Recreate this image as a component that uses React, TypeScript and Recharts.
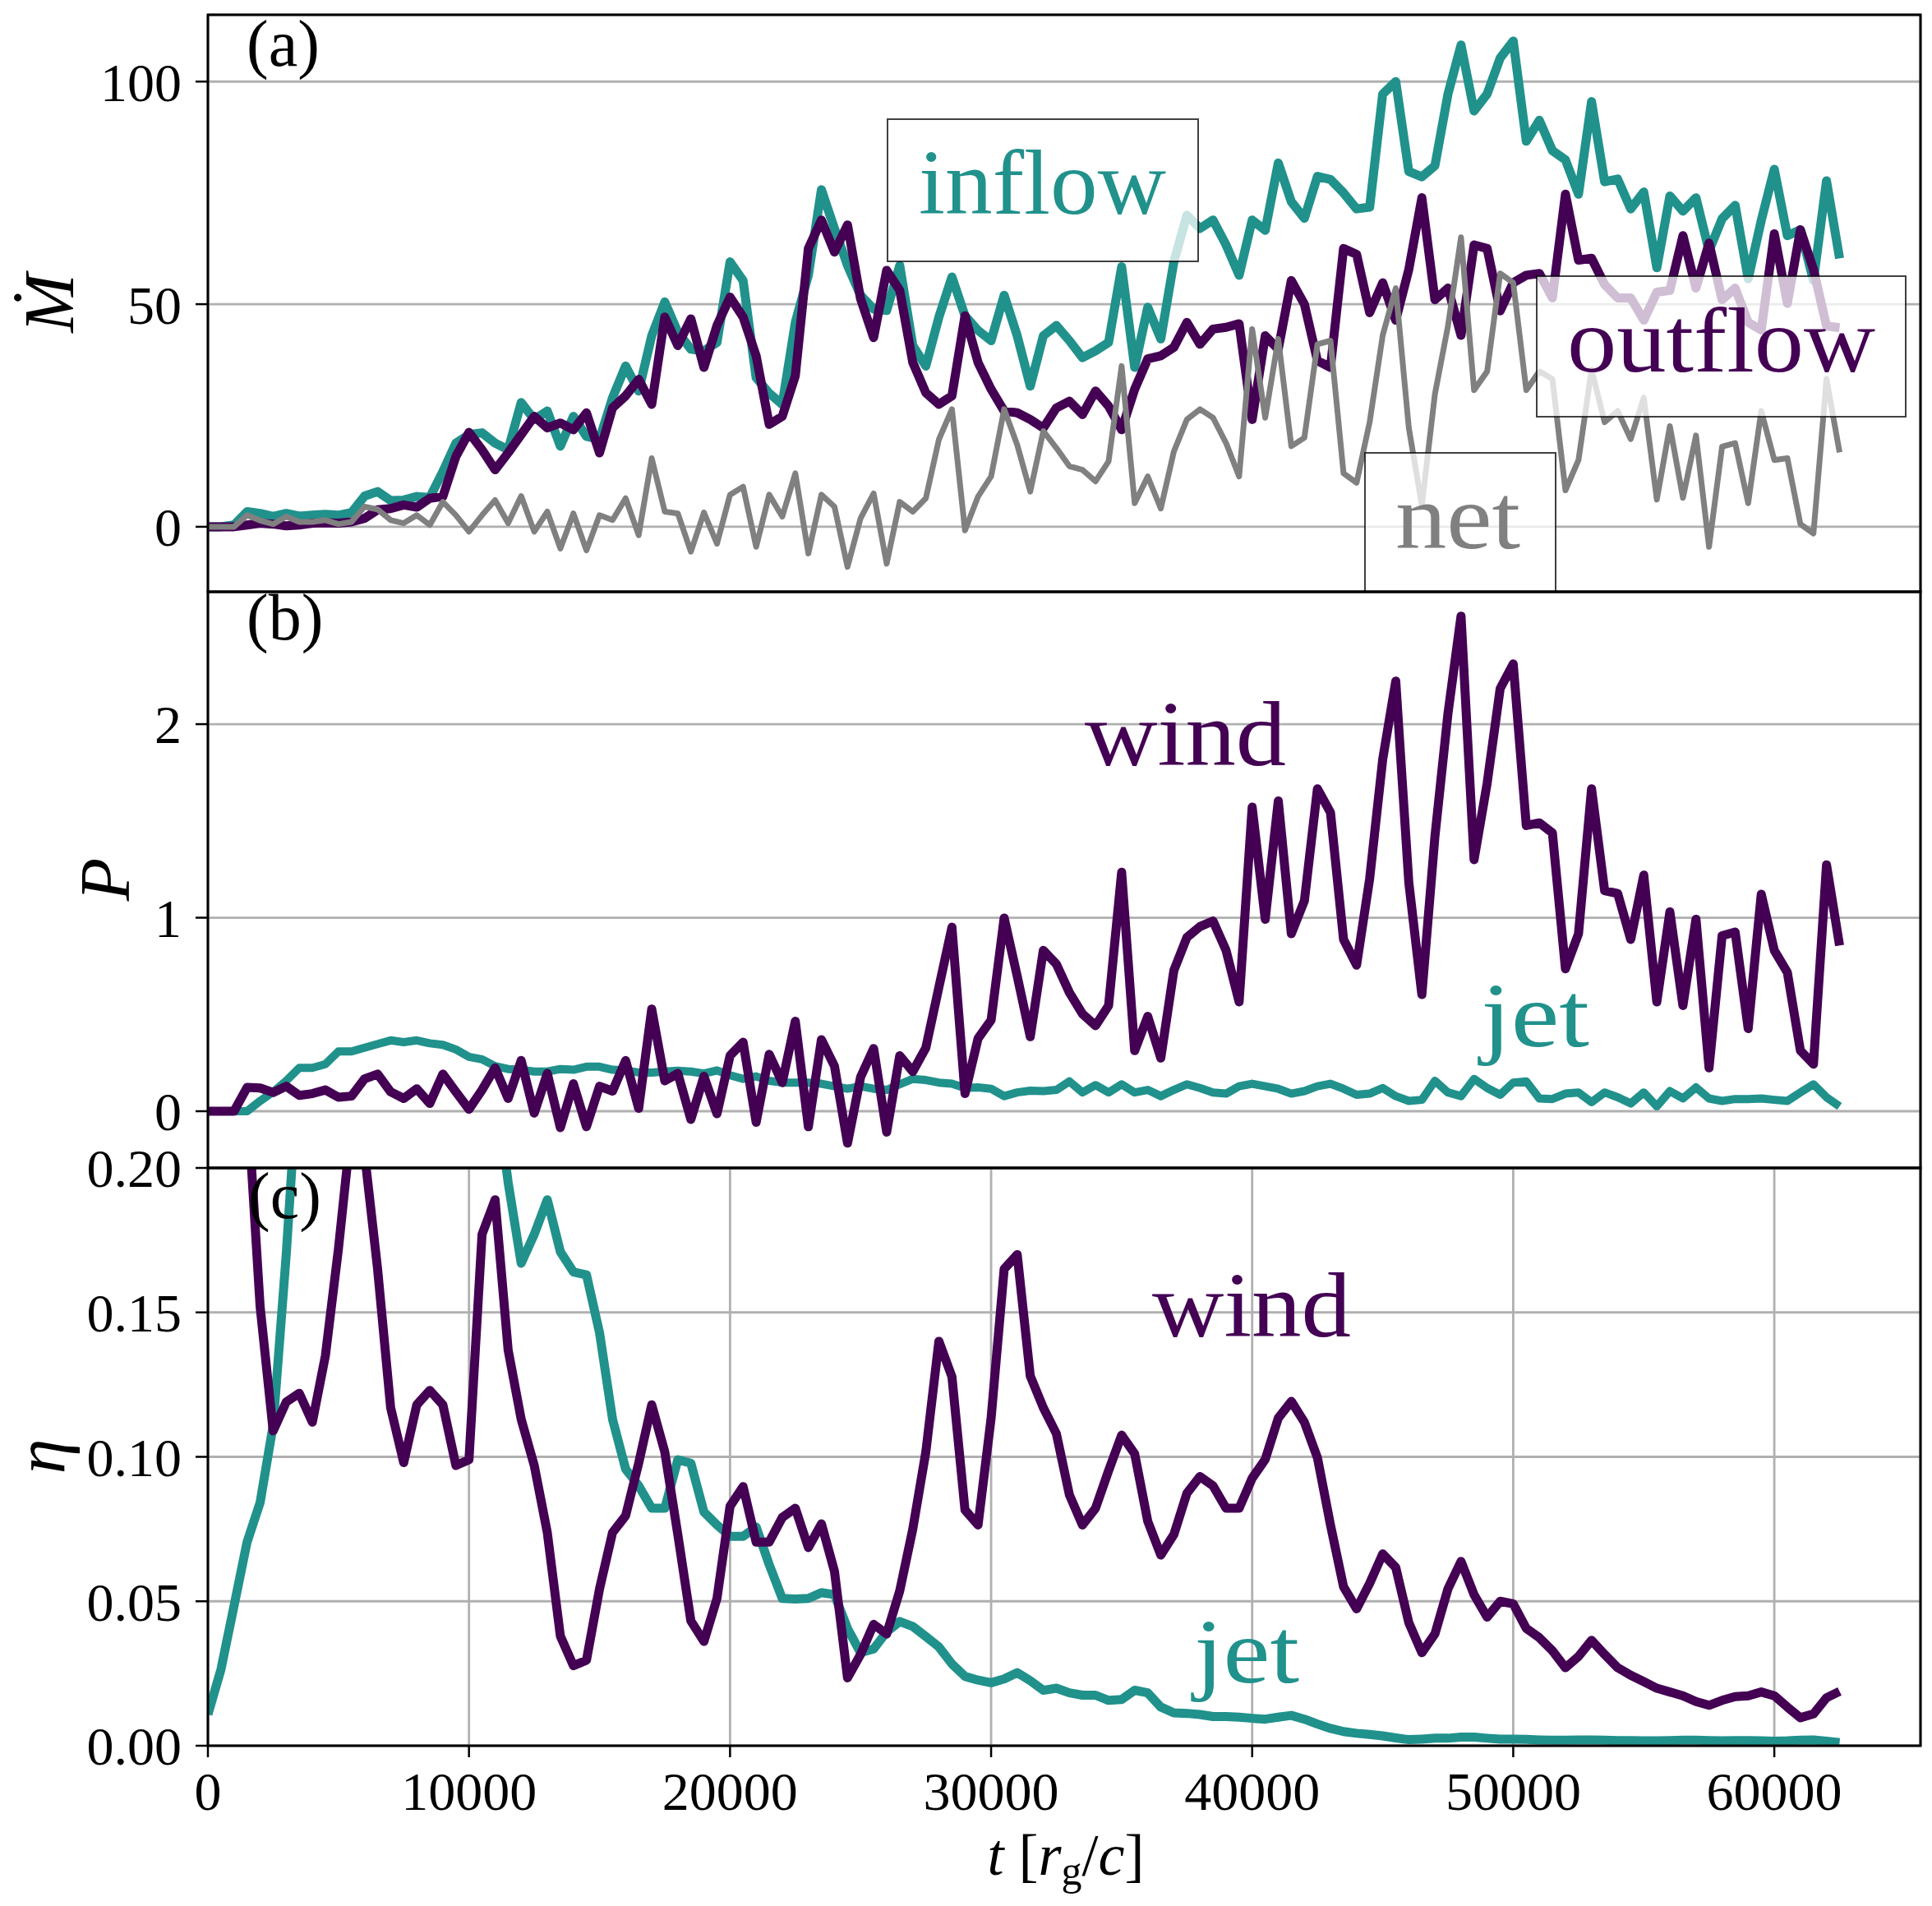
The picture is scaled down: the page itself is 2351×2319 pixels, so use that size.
import React from 'react';
import { LineChart, Line, XAxis, YAxis, CartesianGrid } from 'recharts';

// time samples, t [r_g/c]
const TIME = [
  0, 500, 1000, 1500, 2000, 2500, 3000, 3500, 4000, 4500,
  5000, 5500, 6000, 6500, 7000, 7500, 8000, 8500, 9000, 9500,
  10000, 10500, 11000, 11500, 12000, 12500, 13000, 13500, 14000, 14500,
  15000, 15500, 16000, 16500, 17000, 17500, 18000, 18500, 19000, 19500,
  20000, 20500, 21000, 21500, 22000, 22500, 23000, 23500, 24000, 24500,
  25000, 25500, 26000, 26500, 27000, 27500, 28000, 28500, 29000, 29500,
  30000, 30500, 31000, 31500, 32000, 32500, 33000, 33500, 34000, 34500,
  35000, 35500, 36000, 36500, 37000, 37500, 38000, 38500, 39000, 39500,
  40000, 40500, 41000, 41500, 42000, 42500, 43000, 43500, 44000, 44500,
  45000, 45500, 46000, 46500, 47000, 47500, 48000, 48500, 49000, 49500,
  50000, 50500, 51000, 51500, 52000, 52500, 53000, 53500, 54000, 54500,
  55000, 55500, 56000, 56500, 57000, 57500, 58000, 58500, 59000, 59500,
  60000, 60500, 61000, 61500, 62000, 62500,
];

// (a) mass flux
const INFLOW = [
  0, 0, 0.4, 3.4, 3.0, 2.3, 3.0, 2.4, 2.6, 2.8,
  2.6, 3.2, 6.9, 7.9, 5.9, 6.0, 6.8, 6.6, 12.4, 18.8,
  20.7, 21.1, 18.8, 17.3, 27.9, 24.1, 26.0, 18.1, 24.8, 20.3,
  19.6, 29.0, 36.1, 30.5, 42.9, 50.5, 43.7, 39.9, 39.5, 41.4,
  59.5, 55.3, 33.5, 30.0, 27.5, 45.9, 56.5, 75.7, 67.0, 58.7,
  52.0, 48.9, 48.6, 58.7, 40.7, 36.1, 47.1, 56.1, 47.4, 44.1,
  41.8, 52.0, 42.9, 31.6, 42.9, 45.2, 41.8, 38.0, 39.5, 41.4,
  58.4, 35.8, 49.3, 42.2, 59.5, 70.0, 67.0, 68.9, 63.3, 56.5,
  68.9, 66.6, 81.7, 73.0, 69.3, 78.7, 78.0, 75.0, 71.4, 71.8,
  97.2, 100.0, 79.8, 78.6, 81.1, 97.2, 108.2, 93.4, 97.2, 105.3,
  109.1, 86.6, 91.3, 84.5, 82.4, 74.7, 95.5, 77.5, 78.1, 71.4,
  75.2, 58.2, 74.3, 70.9, 73.9, 62.0, 69.2, 72.2, 55.7, 68.8,
  80.3, 65.4, 66.7, 55.3, 77.7, 60.3,
];

const OUTFLOW = [
  0, 0, 0, 0.4, 0.8, 0.6, 0.2, 0.4, 0.8, 0.9,
  0.8, 1.1, 1.9, 3.8, 4.1, 4.9, 4.4, 6.4, 6.8, 15.8,
  21.2, 17.3, 12.8, 16.6, 20.7, 24.8, 22.2, 23.3, 21.8, 25.6,
  16.6, 26.7, 29.4, 33.1, 27.5, 47.1, 40.7, 46.7, 35.8, 45.2,
  51.6, 47.1, 38.4, 23.0, 24.8, 33.9, 62.5, 68.9, 61.7, 67.8,
  51.2, 42.5, 57.6, 53.1, 36.9, 30.1, 27.5, 29.4, 47.4, 36.9,
  30.9, 26.0, 25.6, 24.1, 22.2, 26.7, 28.2, 25.2, 30.5, 27.1,
  21.8, 30.9, 37.7, 38.4, 40.3, 45.9, 41.0, 44.4, 44.8, 45.6,
  24.1, 42.9, 39.9, 55.3, 50.0, 37.3, 35.8, 62.5, 61.2, 48.1,
  54.8, 46.4, 57.8, 73.9, 51.0, 53.6, 43.0, 63.3, 62.5, 48.5,
  54.8, 56.5, 56.9, 51.4, 74.7, 59.9, 60.3, 54.4, 51.4, 51.4,
  46.4, 52.7, 53.1, 65.4, 53.6, 63.7, 51.0, 53.6, 45.9, 44.2,
  65.8, 50.2, 66.7, 57.8, 45.1, 44.7,
];

const NET = [
  0, 0, 0, 2.6, 1.4, 0.6, 2.3, 1.1, 1.1, 1.5,
  0.6, 1.1, 4.5, 3.9, 1.5, 0.8, 2.6, 0.4, 5.6, 2.6,
  -1.1, 2.6, 6.0, 0.8, 6.9, -1.1, 3.4, -4.9, 3.0, -5.3,
  2.6, 1.5, 6.4, -1.9, 15.4, 3.4, 3.0, -5.6, 3.2, -3.8,
  7.2, 9.0, -4.5, 7.2, 2.3, 12.0, -6.0, 7.2, 4.5, -9.0,
  1.9, 7.5, -8.3, 5.6, 3.4, 6.4, 19.6, 26.4, -0.8, 6.8,
  11.3, 26.4, 18.4, 7.9, 21.5, 17.7, 13.6, 12.8, 10.2, 14.7,
  36.1, 5.3, 11.3, 4.1, 16.9, 24.1, 26.4, 24.5, 18.8, 11.3,
  44.4, 24.5, 42.2, 18.1, 20.0, 41.0, 41.8, 12.0, 9.9, 23.5,
  43.0, 53.6, 22.2, 4.8, 29.8, 45.1, 65.0, 30.7, 34.9, 56.9,
  54.8, 30.7, 34.9, 33.2, 8.2, 15.0, 35.3, 23.5, 26.0, 19.7,
  29.0, 6.1, 22.6, 6.5, 20.5, -4.5, 18.0, 18.8, 5.3, 26.0,
  15.0, 15.4, 0.6, -1.5, 33.2, 16.7,
];

// (b) power
const WIND_P = [
  0, 0, 0, 0.123, 0.12, 0.097, 0.129, 0.082, 0.091, 0.11,
  0.072, 0.078, 0.167, 0.192, 0.1, 0.066, 0.116, 0.04, 0.192, 0.1,
  0.01, 0.11, 0.224, 0.066, 0.262, -0.01, 0.195, -0.085, 0.142, -0.08,
  0.129, 0.104, 0.262, 0.015, 0.528, 0.157, 0.195, -0.042, 0.18, -0.013,
  0.287, 0.357, -0.057, 0.294, 0.148, 0.465, -0.08, 0.37, 0.233, -0.165,
  0.176, 0.324, -0.108, 0.287, 0.205, 0.328, 0.641, 0.951, 0.091, 0.376,
  0.471, 0.998, 0.698, 0.385, 0.831, 0.76, 0.613, 0.503, 0.442, 0.546,
  1.235, 0.313, 0.49, 0.275, 0.727, 0.898, 0.954, 0.983, 0.831, 0.565,
  1.571, 0.992, 1.603, 0.917, 1.087, 1.666, 1.543, 0.888, 0.755, 1.201,
  1.818, 2.222, 1.182, 0.603, 1.419, 2.055, 2.558, 1.3, 1.694, 2.184,
  2.311, 1.476, 1.49, 1.438, 0.736, 0.917, 1.666, 1.14, 1.125, 0.888,
  1.22, 0.565, 1.03, 0.546, 0.992, 0.224, 0.907, 0.926, 0.427, 1.121,
  0.831, 0.717, 0.313, 0.243, 1.273, 0.856,
];

const JET_P = [
  0, 0, 0, 0, 0.053, 0.1, 0.157, 0.224, 0.224, 0.243,
  0.309, 0.309, 0.328, 0.347, 0.366, 0.357, 0.366, 0.351, 0.343, 0.319,
  0.281, 0.268, 0.233, 0.218, 0.214, 0.205, 0.205, 0.218, 0.214, 0.23,
  0.23, 0.214, 0.211, 0.2, 0.2, 0.205, 0.209, 0.205, 0.195, 0.211,
  0.186, 0.167, 0.18, 0.157, 0.148, 0.148, 0.148, 0.142, 0.129, 0.116,
  0.129, 0.116, 0.11, 0.139, 0.167, 0.161, 0.148, 0.142, 0.12, 0.123,
  0.116, 0.078, 0.097, 0.106, 0.104, 0.11, 0.154, 0.097, 0.135, 0.097,
  0.139, 0.097, 0.11, 0.078, 0.11, 0.139, 0.12, 0.097, 0.091, 0.129,
  0.142, 0.129, 0.116, 0.091, 0.104, 0.129, 0.142, 0.116, 0.085, 0.091,
  0.12, 0.078, 0.053, 0.059, 0.157, 0.097, 0.078, 0.167, 0.12, 0.085,
  0.148, 0.154, 0.066, 0.063, 0.091, 0.097, 0.047, 0.097, 0.072, 0.04,
  0.097, 0.025, 0.104, 0.066, 0.123, 0.066, 0.053, 0.063, 0.063, 0.066,
  0.059, 0.053, 0.097, 0.139, 0.072, 0.025,
];

// (c) efficiency
const WIND_ETA = [
  0.3, 0.3, 0.3, 0.225, 0.152, 0.109, 0.119, 0.122, 0.112, 0.135,
  0.172, 0.215, 0.205, 0.165, 0.117, 0.098, 0.118, 0.123, 0.118, 0.097,
  0.099, 0.177, 0.189, 0.137, 0.113, 0.097, 0.0738, 0.038, 0.0277, 0.0296,
  0.0543, 0.0738, 0.0796, 0.0978, 0.118, 0.1017, 0.0731, 0.0432, 0.0361, 0.051,
  0.0829, 0.0897, 0.0705, 0.0705, 0.079, 0.0822, 0.0686, 0.0768, 0.0604, 0.0235,
  0.0316, 0.042, 0.0387, 0.0536, 0.075, 0.1017, 0.14, 0.1277, 0.0816, 0.0764,
  0.1134, 0.165, 0.17, 0.128, 0.117, 0.108, 0.0868, 0.0764, 0.0822, 0.0952,
  0.1075, 0.101, 0.0777, 0.066, 0.0731, 0.0874, 0.0932, 0.09, 0.0822, 0.0822,
  0.0926, 0.0991, 0.1134, 0.1192, 0.112, 0.0997, 0.0764, 0.055, 0.0474, 0.0562,
  0.0664, 0.0617, 0.0426, 0.0322, 0.0387, 0.0543, 0.0638, 0.0523, 0.0445, 0.05,
  0.0491, 0.0406, 0.0374, 0.0329, 0.027, 0.0309, 0.0365, 0.0316, 0.027, 0.0244,
  0.0222, 0.0199, 0.0186, 0.0173, 0.0153, 0.014, 0.0157, 0.017, 0.0173, 0.0186,
  0.0173, 0.0134, 0.0097, 0.011, 0.0166, 0.0188,
];

const JET_ETA = [
  0.0108, 0.0264, 0.0484, 0.0705, 0.0842, 0.111, 0.17, 0.24, 0.29, 0.32,
  0.33, 0.34, 0.34, 0.34, 0.33, 0.33, 0.32, 0.31, 0.3, 0.28,
  0.27, 0.25, 0.23, 0.195, 0.167, 0.177, 0.189, 0.171, 0.164, 0.163,
  0.143, 0.113, 0.0958, 0.09, 0.0822, 0.0822, 0.099, 0.0978, 0.0809, 0.0764,
  0.0725, 0.0725, 0.0757, 0.0627, 0.051, 0.0508, 0.051, 0.053, 0.0523, 0.0406,
  0.0322, 0.0335, 0.0394, 0.043, 0.0413, 0.0378, 0.0342, 0.0283, 0.024, 0.0227,
  0.0218, 0.0231, 0.0253, 0.0225, 0.0192, 0.0199, 0.0183, 0.0175, 0.0175, 0.0157,
  0.016, 0.0192, 0.0183, 0.0134, 0.0114, 0.0112, 0.0108, 0.0101, 0.0101, 0.0099,
  0.0095, 0.0092, 0.0099, 0.0105, 0.0092, 0.0075, 0.006, 0.0049, 0.0043, 0.0039,
  0.0034, 0.0027, 0.0021, 0.0023, 0.0026, 0.0026, 0.003, 0.003, 0.0026, 0.0023,
  0.0023, 0.0022, 0.002, 0.0019, 0.0019, 0.002, 0.002, 0.0019, 0.0018, 0.0018,
  0.0017, 0.0017, 0.0018, 0.0019, 0.0019, 0.0018, 0.0017, 0.0018, 0.0018, 0.0017,
  0.0016, 0.0017, 0.0019, 0.002, 0.0016, 0.0011,
];

const X_TICKS = [0, 10000, 20000, 30000, 40000, 50000, 60000];
const MDOT_TICKS = [0, 50, 100];
const P_TICKS = [0, 1, 2];
const ETA_TICKS = [0, 0.05, 0.1, 0.15, 0.2];

const TEAL = '#21918c';
const PURPLE = '#440154';
const GREY = '#808080';
const SERIF = '"Liberation Serif", "DejaVu Serif", serif';

const W = 2351;
const H = 2319;
const X_DOMAIN: [number, number] = [0, 65600];

const rows = TIME.map((t, i) => ({
  t,
  inflow: INFLOW[i],
  outflow: OUTFLOW[i],
  net: NET[i],
  windP: WIND_P[i],
  jetP: JET_P[i],
  windEta: WIND_ETA[i],
  jetEta: JET_ETA[i],
}));

const tickFont = { fontSize: 66, fontFamily: SERIF, fill: '#000' };
const gridProps = { stroke: '#b0b0b0', strokeWidth: 2.8 };

function hiddenX() {
  return (
    <XAxis
      type="number"
      dataKey="t"
      domain={X_DOMAIN}
      ticks={X_TICKS}
      allowDataOverflow
      tick={false}
      tickLine={false}
      axisLine={false}
      height={0}
    />
  );
}

function yAxis(domain: [number, number], ticks: number[], fmt?: (v: number) => string) {
  return (
    <YAxis
      type="number"
      domain={domain}
      ticks={ticks}
      allowDataOverflow
      interval={0}
      width={253}
      axisLine={false}
      stroke="#000"
      tickLine={{ stroke: '#000', strokeWidth: 2.5 }}
      tickSize={15}
      tickMargin={17}
      tick={tickFont}
      tickFormatter={fmt}
    />
  );
}

const lineBase = { type: 'linear' as const, dot: false, isAnimationActive: false, strokeLinejoin: 'round' as const };

export default function App() {
  return (
    <div style={{ position: 'absolute', left: 0, top: 0, width: W, height: H, background: '#fff' }}>
      {/* (a) mass fluxes */}
      <div style={{ position: 'absolute', left: 0, top: 0 }}>
        <LineChart width={W} height={720} data={rows} margin={{ top: 18, right: 14, bottom: 0, left: 0 }}>
          <CartesianGrid {...gridProps} />
          {hiddenX()}
          {yAxis([-14.6, 115], MDOT_TICKS)}
          <Line {...lineBase} dataKey="inflow" stroke={TEAL} strokeWidth={11} />
          <Line {...lineBase} dataKey="outflow" stroke={PURPLE} strokeWidth={11} />
          <Line {...lineBase} dataKey="net" stroke={GREY} strokeWidth={7} />
        </LineChart>
      </div>

      {/* (b) power */}
      <div style={{ position: 'absolute', left: 0, top: 720 }}>
        <LineChart width={W} height={701} data={rows} margin={{ top: 0, right: 14, bottom: 0, left: 0 }}>
          <CartesianGrid {...gridProps} />
          {hiddenX()}
          {yAxis([-0.293, 2.684], P_TICKS)}
          <Line {...lineBase} dataKey="jetP" stroke={TEAL} strokeWidth={10} />
          <Line {...lineBase} dataKey="windP" stroke={PURPLE} strokeWidth={11} />
        </LineChart>
      </div>

      {/* (c) efficiency */}
      <div style={{ position: 'absolute', left: 0, top: 1380 }}>
        <LineChart width={W} height={924} data={rows} margin={{ top: 41, right: 14, bottom: 0, left: 0 }}>
          <CartesianGrid {...gridProps} />
          <XAxis
            type="number"
            dataKey="t"
            domain={X_DOMAIN}
            ticks={X_TICKS}
            allowDataOverflow
            interval={0}
            height={180}
            axisLine={false}
            stroke="#000"
            tickLine={{ stroke: '#000', strokeWidth: 2.5 }}
            tickSize={14}
            tickMargin={17}
            tick={tickFont}
          />
          {yAxis([0, 0.2], ETA_TICKS, (v: number) => v.toFixed(2))}
          <Line {...lineBase} dataKey="jetEta" stroke={TEAL} strokeWidth={11} />
          <Line {...lineBase} dataKey="windEta" stroke={PURPLE} strokeWidth={11} />
        </LineChart>
      </div>

      {/* frames, labels and annotation boxes */}
      <svg
        width={W}
        height={H}
        style={{ position: 'absolute', left: 0, top: 0, pointerEvents: 'none' }}
        fontFamily={SERIF}
      >
        <rect x={1080} y={145} width={378} height={173} fill="#fff" fillOpacity={0.75} stroke="#000" strokeOpacity={0.75} strokeWidth={2} />
        <rect x={1870} y={336} width={449} height={171} fill="#fff" fillOpacity={0.75} stroke="#000" strokeOpacity={0.75} strokeWidth={2} />
        <path d="M1661,720 V551 H1893 V720 Z" fill="#fff" fillOpacity={0.75} stroke="none" />
        <path d="M1661,720 V551 H1893 V720" fill="none" stroke="#000" strokeOpacity={0.75} strokeWidth={2} />

        <text x={1118} y={260} fontSize={112} fill={TEAL} textLength={301} lengthAdjust="spacingAndGlyphs">inflow</text>
        <text x={1907} y={452} fontSize={112} fill={PURPLE} textLength={375} lengthAdjust="spacingAndGlyphs">outflow</text>
        <text x={1698} y={667} fontSize={112} fill={GREY} textLength={152} lengthAdjust="spacingAndGlyphs">net</text>
        <text x={1320} y={931} fontSize={112} fill={PURPLE} textLength={245} lengthAdjust="spacingAndGlyphs">wind</text>
        <text x={1802} y={1273} fontSize={112} fill={TEAL} textLength={132} lengthAdjust="spacingAndGlyphs">jet</text>
        <text x={1402} y={1626} fontSize={112} fill={PURPLE} textLength={242} lengthAdjust="spacingAndGlyphs">wind</text>
        <text x={1453} y={2047} fontSize={112} fill={TEAL} textLength={128} lengthAdjust="spacingAndGlyphs">jet</text>

        <text x={300} y={80} fontSize={80} fill="#000">(a)</text>
        <text x={300} y={778} fontSize={80} fill="#000">(b)</text>
        <text x={302} y={1482} fontSize={80} fill="#000">(c)</text>

        <rect x={253} y={18} width={2084} height={702} fill="none" stroke="#000" strokeWidth={3} />
        <rect x={253} y={720} width={2084} height={701} fill="none" stroke="#000" strokeWidth={3} />
        <rect x={253} y={1421} width={2084} height={703} fill="none" stroke="#000" strokeWidth={3} />

        <text transform="translate(89,369) rotate(-90)" textAnchor="middle" fontSize={86} fontStyle="italic" fill="#000">Ṁ</text>
        <text transform="translate(157,1070) rotate(-90)" textAnchor="middle" fontSize={86} fontStyle="italic" fill="#000">P</text>
        <text transform="translate(78,1772) rotate(-90)" textAnchor="middle" fontSize={86} fontStyle="italic" fill="#000">η</text>

        <text x={1297} y={2281} textAnchor="middle" fontSize={72} fill="#000">
          <tspan fontStyle="italic">t</tspan>
          <tspan> [</tspan>
          <tspan fontStyle="italic">r</tspan>
          <tspan fontSize={50} dy={12}>g</tspan>
          <tspan dy={-12}>/</tspan>
          <tspan fontStyle="italic">c</tspan>
          <tspan>]</tspan>
        </text>
      </svg>
    </div>
  );
}
